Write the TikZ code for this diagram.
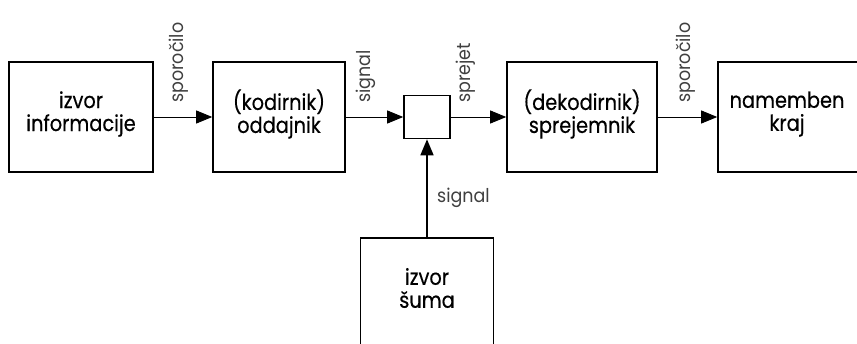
\documentclass[tikz,border=0pt]{standalone}
\usepackage{fontspec}
\setmainfont{Poppins}
\newfontfamily\mainf[FakeStretch=0.88,FakeBold=0.4]{Poppins}
\newfontfamily\lblf[FakeStretch=0.92]{Poppins}
\usetikzlibrary{arrows.meta}
\begin{document}
\begin{tikzpicture}[x=1pt,y=-1pt,
  box/.style={draw, line width=1.6pt, inner sep=0pt, align=center,
    font=\mainf\fontsize{22}{23}\selectfont},
  boxtext/.style={inner sep=0pt, align=center, font=\mainf\fontsize{22}{23}\selectfont},
  arr/.style={line width=0.8pt, -{Triangle[length=16pt,width=13pt]}},
  lbl/.style={inner sep=0pt, text=black!75, font=\lblf\fontsize{19}{20}\selectfont}]
\useasboundingbox (0,0) rectangle (857,343);
\clip (0,0) rectangle (857,343);
\node[box, minimum width=144pt, minimum height=110pt] (b1) at (81,117) {};
\node[box, minimum width=132pt, minimum height=110pt] (b2) at (279,117) {};
\node[box, minimum width=46pt, minimum height=43pt] (sq) at (427,117) {};
\node[box, minimum width=150pt, minimum height=110pt] (b3) at (582,117) {};
\node[box, minimum width=142pt, minimum height=110pt] (b4) at (789,117) {};
\node[box, minimum width=133pt, minimum height=124pt] (n) at (427,300) {};
\node[boxtext] (t1) at (81,114) {izvor\\informacije};
\node[boxtext] (t2) at (279,114) {(kodirnik)\\oddajnik};
\node[boxtext] (t3) at (582,114) {(dekodirnik)\\sprejemnik};
\node[boxtext] (t4) at (787,114) {namemben\\kraj};
\node[boxtext] (nt) at (427,288) {izvor\\šuma};
\draw[arr] (b1.east) -- (b2.west);
\draw[arr] (b2.east) -- (sq.west);
\draw[arr] (sq.east) -- (b3.west);
\draw[arr] (b3.east) -- (b4.west);
\draw[arr, line width=1.6pt] (n.north) -- (sq.south);
\node[lbl, rotate=90, anchor=west] (l1) at (179,103) {sporočilo};
\node[lbl, rotate=90, anchor=west] (l2) at (366,103) {signal};
\node[lbl, rotate=90, anchor=west] (l3) at (466,103) {sprejet};
\node[lbl, rotate=90, anchor=west] (l4) at (686,103) {sporočilo};
\node[lbl, anchor=base west] (l5) at (437,202) {signal};
\end{tikzpicture}
\end{document}
